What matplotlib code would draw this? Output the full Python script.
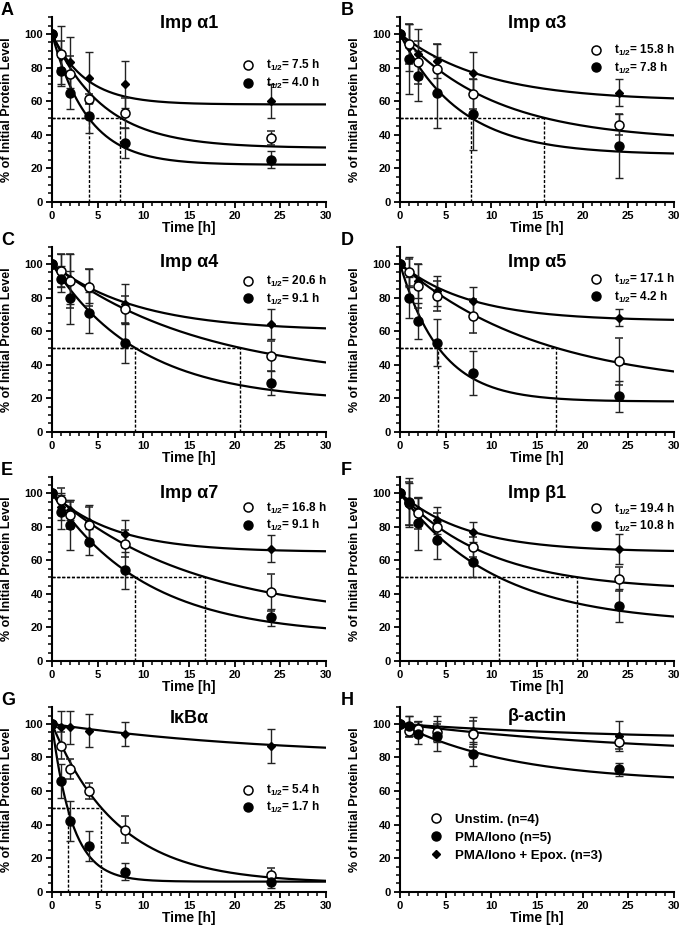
import numpy as np
import matplotlib
matplotlib.use("Agg")
import matplotlib.pyplot as plt
from matplotlib.lines import Line2D
from matplotlib.ticker import MultipleLocator

plt.rcParams['font.family'] = ['Liberation Sans', 'DejaVu Sans']
plt.rcParams['font.weight'] = 'bold'
plt.rcParams['mathtext.fontset'] = 'custom'
plt.rcParams['mathtext.rm'] = 'Liberation Sans:bold'
plt.rcParams['mathtext.it'] = 'Liberation Sans:bold'
plt.rcParams['mathtext.bf'] = 'Liberation Sans:bold'

# ---- data ----
TIMES = [0, 1, 2, 4, 8, 24]
LETTERS = ["A", "B", "C", "D", "E", "F", "G", "H"]
TITLES = ["Imp α1", "Imp α3", "Imp α4", "Imp α5", "Imp α7", "Imp β1", "IκBα", "β-actin"]

UNSTIM_MEAN = [[100, 88, 76, 61, 53, 38], [100, 94, 83, 79, 64, 46], [100, 96, 90, 86, 73, 45],
               [100, 95, 87, 81, 69, 42], [100, 96, 87, 81, 70, 41], [100, 94, 88, 80, 68, 49],
               [100, 87, 73, 60, 37, 10], [100, 96, 97, 95, 94, 89]]
UNSTIM_ERR = [[0, 8, 11, 3, 9, 4], [0, 12, 13, 15, 9, 6], [0, 10, 16, 11, 8, 9],
              [0, 8, 13, 9, 10, 14], [0, 7, 8, 11, 8, 11], [0, 13, 9, 8, 6, 7],
              [0, 8, 6, 5, 8, 4], [0, 4, 4, 5, 8, 4]]
PMA_MEAN = [[100, 78, 65, 51, 35, 25], [100, 85, 75, 65, 52, 33], [100, 91, 80, 71, 53, 29],
            [100, 80, 66, 53, 35, 21], [100, 89, 81, 71, 54, 26], [100, 95, 82, 72, 59, 33],
            [100, 66, 42, 27, 12, 6], [100, 99, 94, 93, 82, 73]]
PMA_ERR = [[0, 8, 10, 10, 9, 5], [0, 21, 15, 21, 21, 19], [0, 8, 16, 12, 12, 7],
           [0, 12, 11, 14, 13, 9], [0, 10, 15, 8, 11, 5], [0, 14, 16, 11, 9, 10],
           [0, 10, 12, 9, 5, 4], [0, 6, 6, 9, 7, 4]]
EPOX_MEAN = [[100, 87, 83, 74, 70, 60], [100, 92, 88, 84, 77, 65], [100, 96, 91, 87, 76, 64],
             [100, 95, 90, 84, 78, 68], [100, 92, 90, 83, 76, 67], [100, 93, 90, 84, 77, 67],
             [100, 98, 98, 96, 94, 87], [100, 99, 98, 97, 96, 93]]
EPOX_ERR = [[0, 18, 15, 15, 14, 10], [0, 14, 15, 10, 12, 8], [0, 10, 15, 10, 12, 9],
            [0, 9, 10, 9, 8, 5], [0, 8, 6, 10, 8, 8], [0, 13, 7, 8, 6, 9],
            [0, 10, 10, 10, 7, 10], [0, 6, 4, 8, 8, 9]]

# one-phase decay fits: plateau, and half-life (time to 50 %) or rate constant
UNSTIM_T50 = [7.5, 15.8, 20.6, 17.1, 16.8, 19.4, 5.4, None]
PMA_T50 = [4.0, 7.8, 9.1, 4.2, 9.1, 10.8, 1.7, None]
UNSTIM_PLATEAU = [32, 36, 30, 25, 25, 42, 5, 80]
PMA_PLATEAU = [22, 28, 18, 18, 15, 22, 6, 65]
EPOX_PLATEAU = [58, 60, 60, 66, 65, 65, 80, 90]
EPOX_RATE = [0.275, 0.107, 0.107, 0.13, 0.145, 0.134, 0.041, 0.04]
H_UNSTIM_RATE = 0.035
H_PMA_RATE = 0.08

LEGEND_Y = [0.717, 0.80, 0.795, 0.805, 0.81, 0.805, 0.53, None]
TITLE_Y = [106, 106, 101, 101, 100, 100, 103.5, 104.5]


def decay(t, plateau, k):
    return plateau + (100 - plateau) * np.exp(-k * t)


def rate_from_t50(plateau, t50):
    return -np.log((50 - plateau) / (100 - plateau)) / t50


fig = plt.figure(figsize=(6.83, 9.30), dpi=100)
lefts = [52 / 683, 400 / 683]
bottoms = [0.7831, 0.5358, 0.2892, 0.0412]
tt = np.linspace(0, 30, 300)
dash = (0, (2.2, 1.3))

for i in range(8):
    row, col = divmod(i, 2)
    ax = fig.add_axes([lefts[col], bottoms[row], 0.401, 0.1984])

    if UNSTIM_T50[i] is not None:
        k_u = rate_from_t50(UNSTIM_PLATEAU[i], UNSTIM_T50[i])
        k_p = rate_from_t50(PMA_PLATEAU[i], PMA_T50[i])
    else:
        k_u, k_p = H_UNSTIM_RATE, H_PMA_RATE

    for plat, k in [(UNSTIM_PLATEAU[i], k_u), (PMA_PLATEAU[i], k_p), (EPOX_PLATEAU[i], EPOX_RATE[i])]:
        ax.plot(tt, decay(tt, plat, k), color='black', lw=1.6, zorder=3)

    # dashed half-life guides
    if UNSTIM_T50[i] is not None:
        for t50 in [UNSTIM_T50[i], PMA_T50[i]]:
            ax.plot([0, t50], [50, 50], ls=dash, color='black', lw=1.0, zorder=2)
            ax.plot([t50, t50], [0, 50], ls=dash, color='black', lw=1.0, zorder=2)

    ebkw = dict(ecolor='#222222', elinewidth=1.0, capsize=3.2, capthick=1.0, ls='none', zorder=4)
    ax.errorbar(TIMES, EPOX_MEAN[i], yerr=EPOX_ERR[i], fmt='D', ms=4.2, mfc='black', mec='black', **ebkw)
    ax.errorbar(TIMES, UNSTIM_MEAN[i], yerr=UNSTIM_ERR[i], fmt='o', ms=6.5, mfc='white', mec='black', mew=1.1, **ebkw)
    ax.errorbar(TIMES, PMA_MEAN[i], yerr=PMA_ERR[i], fmt='o', ms=6.5, mfc='black', mec='black', **ebkw)

    ax.set_xlim(0, 30)
    ax.set_ylim(0, 110)
    ax.set_xticks([0, 5, 10, 15, 20, 25, 30])
    ax.set_yticks([0, 20, 40, 60, 80, 100])
    ax.xaxis.set_minor_locator(MultipleLocator(1))
    ax.yaxis.set_minor_locator(MultipleLocator(5))
    for s in ['top', 'right']:
        ax.spines[s].set_visible(False)
    for s in ['left', 'bottom']:
        ax.spines[s].set_linewidth(1.5)
    ax.tick_params(which='major', length=4.5, width=1.3, labelsize=8, pad=2)
    ax.tick_params(which='minor', length=2.8, width=1.1)
    for lab in ax.get_xticklabels() + ax.get_yticklabels():
        lab.set_fontweight('bold')

    ax.set_ylabel('% of Initial Protein Level', fontsize=9, fontweight='bold')
    ax.yaxis.set_label_coords(-0.142, 0.5)
    ax.set_xlabel('Time [h]', fontsize=10, fontweight='bold')
    ax.xaxis.set_label_coords(0.5, -0.105)

    ax.text(15, TITLE_Y[i], TITLES[i], ha='center', va='center', fontsize=13, fontweight='bold')

    if UNSTIM_T50[i] is not None:
        handles = [Line2D([], [], marker='o', ls='none', ms=6.5, mfc='white', mec='black', mew=1.1),
                   Line2D([], [], marker='o', ls='none', ms=6.5, mfc='black', mec='black')]
        labels = [f"t$_{{1/2}}$= {UNSTIM_T50[i]:.1f} h", f"t$_{{1/2}}$= {PMA_T50[i]:.1f} h"]
        ax.legend(handles, labels, loc='upper left', bbox_to_anchor=(0.69, LEGEND_Y[i] + 0.06),
                  frameon=False, fontsize=8.5, handlelength=1.2, handletextpad=0.9,
                  labelspacing=0.2, borderpad=0, borderaxespad=0)
    else:
        handles = [Line2D([], [], marker='o', ls='none', ms=6.5, mfc='white', mec='black', mew=1.1),
                   Line2D([], [], marker='o', ls='none', ms=6.5, mfc='black', mec='black'),
                   Line2D([], [], marker='D', ls='none', ms=4.2, mfc='black', mec='black')]
        labels = ["Unstim. (n=4)", "PMA/Iono (n=5)", "PMA/Iono + Epox. (n=3)"]
        ax.legend(handles, labels, loc='upper left', bbox_to_anchor=(0.103, 0.425),
                  frameon=False, fontsize=9.5, handlelength=1.2, handletextpad=0.8,
                  labelspacing=0.45, borderpad=0, borderaxespad=0)

    fig.text((col * 340 + 1) / 683, 1 - (2 + row * 230) / 930, LETTERS[i],
             ha='left', va='top', fontsize=13, fontweight='bold')

fig.savefig('out.png', dpi=100)
